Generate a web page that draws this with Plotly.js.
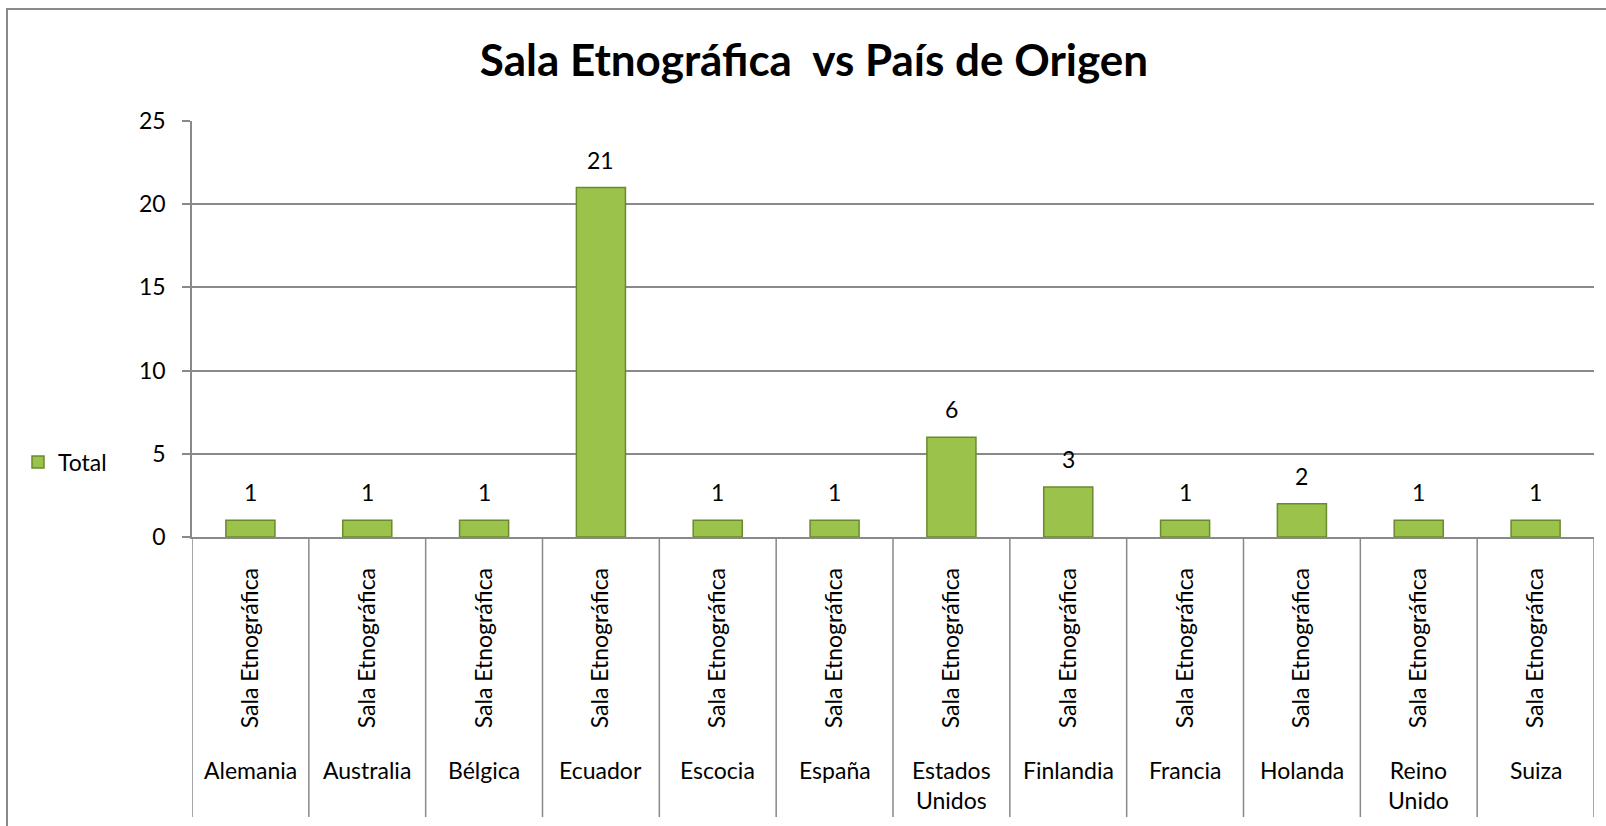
<!DOCTYPE html>
<html>
<head>
<meta charset="utf-8">
<script src="https://cdn.plot.ly/plotly-3.0.1.min.js"></script>
<style>
  html, body { margin: 0; padding: 0; background: #fff; }
  #chart { width: 1606px; height: 826px; }
</style>
</head>
<body>
<div id="chart"></div>
<script>
// ---- Data ----
const countries = ["Alemania", "Australia", "Bélgica", "Ecuador", "Escocia", "España",
                   "Estados Unidos", "Finlandia", "Francia", "Holanda", "Reino Unido", "Suiza"];
const countryLabels = ["Alemania", "Australia", "Bélgica", "Ecuador", "Escocia", "España",
                       "Estados<br>Unidos", "Finlandia", "Francia", "Holanda", "Reino<br>Unido", "Suiza"];
const roomLabels = ["Sala Etnográfica", "Sala Etnográfica", "Sala Etnográfica", "Sala Etnográfica",
                    "Sala Etnográfica", "Sala Etnográfica", "Sala Etnográfica", "Sala Etnográfica",
                    "Sala Etnográfica", "Sala Etnográfica", "Sala Etnográfica", "Sala Etnográfica"];
const totals = [1, 1, 1, 21, 1, 1, 6, 3, 1, 2, 1, 1];
const seriesName = "Total";
const chartTitle = "Sala Etnográfica&nbsp; vs País de Origen";
const yTicks = [0, 5, 10, 15, 20, 25];

const FONT = "Lato, 'Open Sans', sans-serif";
const FS = 23;
const GRAY = "#898989";

const plotTop = 121, plotBottom = 537, plotH = plotBottom - plotTop;
const divBottom = 817;
const divY1 = (plotBottom - divBottom) / plotH;

// ---- Dividers between categories ----
const shapes = [];
for (let i = 0; i <= countries.length; i++) {
  shapes.push({
    type: "line", xref: "x", yref: "paper",
    x0: i - 0.5, x1: i - 0.5, y0: 0, y1: divY1,
    line: { color: GRAY, width: 1.5 }
  });
}
// outer chart border (left + top)
shapes.push({
  type: "rect", xref: "paper", yref: "paper",
  x0: (7 - 192) / 1402, x1: 1.05, y0: -2, y1: (plotBottom - 9) / plotH,
  line: { color: GRAY, width: 2 }, fillcolor: "rgba(0,0,0,0)", layer: "below"
});

// ---- Country labels ----
const annotations = countries.map((c, i) => ({
  x: c, xref: "x", yref: "paper",
  y: (plotBottom - 754) / plotH, yanchor: "top",
  text: countryLabels[i], showarrow: false,
  font: { family: FONT, size: FS, color: "#000" }
}));
// ---- Data labels above bars ----
totals.forEach((v, i) => {
  annotations.push({
    x: countries[i], y: v, xref: "x", yref: "y",
    yanchor: "bottom", yshift: 12,
    text: String(v), showarrow: false,
    font: { family: FONT, size: FS, color: "#000" }
  });
});

const trace = {
  type: "bar",
  x: countries,
  y: totals,
  name: seriesName,
  width: 0.42,
  marker: { color: "#9bc24b", line: { color: "#6b8a2e", width: 1.5 } },
  hoverinfo: "x+y",
  showlegend: true
};

const layout = {
  width: 1606, height: 826,
  margin: { l: 192, r: 12, t: plotTop, b: 826 - plotBottom, pad: 0 },
  paper_bgcolor: "#fff", plot_bgcolor: "#fff",
  font: { family: FONT, size: FS, color: "#000" },
  title: {
    text: "<b>" + chartTitle + "</b>",
    font: { family: FONT, size: 44, color: "#000" },
    x: 814 / 1606, xanchor: "center",
    y: 1 - 61 / 826, yanchor: "middle"
  },
  xaxis: {
    type: "category",
    tickmode: "array", tickvals: countries, ticktext: roomLabels,
    tickangle: -90,
    ticks: "", showgrid: false,
    showline: true, linecolor: GRAY, linewidth: 1.5,
    tickfont: { family: FONT, size: FS, color: "#000" },
    ticklabelstandoff: 20,
    range: [-0.5, countries.length - 0.5],
    fixedrange: true
  },
  yaxis: {
    range: [0, 25], tickvals: yTicks,
    ticks: "outside", ticklen: 8, tickcolor: GRAY, tickwidth: 1.5,
    showline: true, linecolor: GRAY, linewidth: 1.5,
    showgrid: true, gridcolor: GRAY, gridwidth: 1.5,
    zeroline: false,
    tickfont: { family: FONT, size: FS, color: "#000" },
    ticklabelstandoff: 12,
    fixedrange: true
  },
  showlegend: true,
  legend: {
    x: (18 - 192) / 1402, xanchor: "left",
    y: (plotBottom - 462) / plotH, yanchor: "middle",
    font: { family: FONT, size: FS, color: "#000" },
    bgcolor: "rgba(0,0,0,0)", itemwidth: 30
  },
  bargap: 0.58,
  shapes: shapes,
  annotations: annotations
};

Plotly.newPlot("chart", [trace], layout, { displayModeBar: false, responsive: false });
</script>
</body>
</html>
